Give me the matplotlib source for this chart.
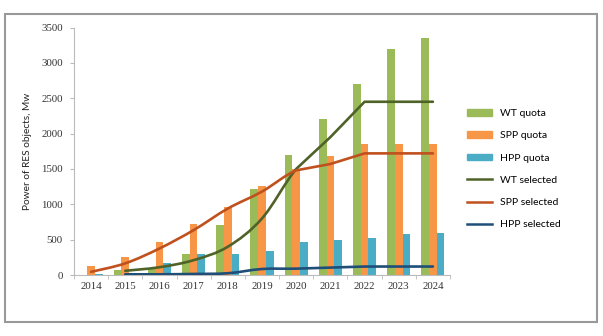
import matplotlib.pyplot as plt
import numpy as np
from matplotlib.patches import Rectangle, Patch, PathPatch
from matplotlib.lines import Line2D
from matplotlib.path import Path

years = ['2014', '2015', '2016', '2017', '2018', '2019', '2020', '2021', '2022', '2023', '2024']

wt_quota = [0, 70, 90, 295, 705, 1210, 1700, 2200, 2700, 3200, 3350]
spp_quota = [125, 250, 460, 715, 965, 1255, 1500, 1680, 1850, 1850, 1850]
hpp_quota = [10, 30, 170, 295, 295, 340, 465, 490, 530, 575, 590]

wt_sel = [None, 60, 110, 210, 400, 800, 1500, 1950, 2450, 2450, 2450]
spp_sel = [45, 165, 375, 635, 940, 1180, 1480, 1570, 1720, 1720, 1720]
hpp_sel = [None, 10, 10, 15, 25, 85, 90, 105, 120, 120, 120]

c_wt = '#9bbb59'
c_spp = '#f79646'
c_hpp = '#4bacc6'
c_wt_line = '#4f6228'
c_spp_line = '#c0501e'
c_hpp_line = '#1f4e79'

SMOOTH_UNTIL = 6  # curves are smoothed up to 2020, straight after


def smooth_line(ax, vals, color):
    # bezier segments through the data points (smoothed part), straight lines after
    pts = [(i, v) for i, v in enumerate(vals) if v is not None]
    p = np.array(pts, dtype=float)
    n = len(p)
    verts = [tuple(p[0])]
    codes = [Path.MOVETO]
    for i in range(n - 1):
        p1 = p[i]
        p2 = p[i + 1]
        if p2[0] <= SMOOTH_UNTIL:
            p0 = p[i - 1] if i > 0 else p[i]
            p3 = p[i + 2] if i + 2 < n else p[i + 1]
            c1 = p1 + (p2 - p0) / 6.0
            c2 = p2 - (p3 - p1) / 6.0
            verts += [tuple(c1), tuple(c2), tuple(p2)]
            codes += [Path.CURVE4] * 3
        else:
            verts.append(tuple(p2))
            codes.append(Path.LINETO)
    ax.add_patch(PathPatch(Path(verts, codes), fill=False, edgecolor=color,
                           lw=1.9, zorder=3, capstyle='round', joinstyle='round'))


def main():
    fig = plt.figure(figsize=(6.03, 3.36), dpi=100)
    ax = fig.add_axes([0.1227, 0.1815, 0.6236, 0.7366])

    x = np.arange(len(years))
    w = 0.225
    ax.bar(x - w, wt_quota, w, color=c_wt, zorder=2)
    ax.bar(x, spp_quota, w, color=c_spp, zorder=2)
    ax.bar(x + w, hpp_quota, w, color=c_hpp, zorder=2)

    smooth_line(ax, wt_sel, c_wt_line)
    smooth_line(ax, spp_sel, c_spp_line)
    smooth_line(ax, hpp_sel, c_hpp_line)

    ax.set_xlim(-0.5, len(years) - 0.5)
    ax.set_ylim(0, 3500)
    ax.set_yticks(np.arange(0, 3501, 500))
    ax.set_xticks(x)
    ax.set_xticklabels(years)
    ax.set_xticks(np.arange(-0.5, len(years), 1), minor=True)
    ax.tick_params(axis='x', which='major', length=0, pad=5)
    ax.tick_params(axis='x', which='minor', length=3, color='#bbbbbb')
    ax.tick_params(axis='y', length=3, color='#bbbbbb', pad=5)
    for lab in ax.get_xticklabels() + ax.get_yticklabels():
        lab.set_fontfamily('Liberation Serif')
        lab.set_fontsize(7.8)
        lab.set_color('#333333')

    for s in ['top', 'right']:
        ax.spines[s].set_visible(False)
    for s in ['left', 'bottom']:
        ax.spines[s].set_color('#bbbbbb')

    ax.set_ylabel('Power of RES objects, Mw', fontsize=7.3, family='Lato', color='#222222', labelpad=7)

    handles = [
        Patch(color=c_wt, label='WT quota'),
        Patch(color=c_spp, label='SPP quota'),
        Patch(color=c_hpp, label='HPP quota'),
        Line2D([], [], color=c_wt_line, lw=1.8, label='WT selected'),
        Line2D([], [], color=c_spp_line, lw=1.8, label='SPP selected'),
        Line2D([], [], color=c_hpp_line, lw=1.8, label='HPP selected'),
    ]
    fig.legend(handles=handles, loc='upper left', bbox_to_anchor=(0.759, 0.703),
               frameon=False, prop={'family': 'Lato', 'size': 7.5},
               handlelength=2.4, handleheight=0.6, handletextpad=0.8, labelspacing=1.27)

    fig.patches.append(Rectangle((5 / 603, 1 - 322 / 336), 592 / 603, 308 / 336,
                                 transform=fig.transFigure, fill=False,
                                 edgecolor='#999999', lw=1.5))

    fig.savefig('out.png', dpi=100)


if __name__ == '__main__':
    main()
